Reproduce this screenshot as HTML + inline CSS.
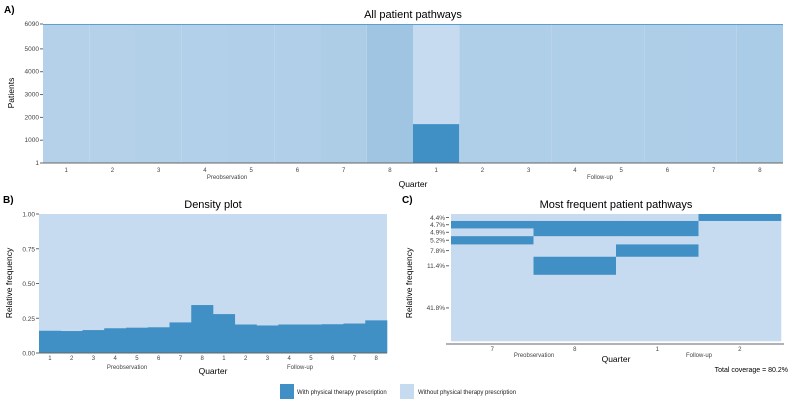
<!DOCTYPE html>
<html><head><meta charset="utf-8"><style>
body{margin:0;background:#fff;font-family:"Liberation Sans",sans-serif;}
svg text{font-family:"Liberation Sans",sans-serif;}
</style></head><body>
<svg id="s" width="800" height="400" xmlns="http://www.w3.org/2000/svg">
<g id="A"></g>
<g id="B"></g>
<g id="C"></g>
<g id="L"></g>
</svg>
<script>
const quarters=["1","2","3","4","5","6","7","8","1","2","3","4","5","6","7","8"];
const density=[0.16,0.158,0.165,0.178,0.182,0.185,0.22,0.345,0.28,0.205,0.198,0.205,0.205,0.207,0.212,0.235];
const patientTicks=[1,1000,2000,3000,4000,5000,6090];
const densityTicks=[0,0.25,0.5,0.75,1];
const densityTickLabels=["0.00","0.25","0.50","0.75","1.00"];
const pathwayQuarters=["7","8","1","2"];
const pathwayFreq=[4.4,4.7,4.9,5.2,7.8,11.4,41.8];
const pathwayStates=[[0,0,0,1],[1,1,1,0],[0,1,1,0],[1,0,0,0],[0,0,1,0],[0,1,0,0],[0,0,0,0]];
const DARK="#4090c6",LIGHT="#c6dbef",NS="http://www.w3.org/2000/svg";
function el(p,t,a,txt){const e=document.createElementNS(NS,t);for(const k in a)e.setAttribute(k,a[k]);if(txt!=null)e.textContent=txt;p.appendChild(e);return e;}
function mix(v){const a=[0xc6,0xdb,0xef],b=[0x40,0x90,0xc6];const f=Math.min(1,v*0.85);return "rgb("+a.map((x,i)=>Math.round(x+(b[i]-x)*f)).join(",")+")";}
// Panel A
const A=document.getElementById('A');
const ax0=43,ax1=783,ay0=24,ay1=163,nP=6090;
const xA=i=>ax0+i*(ax1-ax0)/quarters.length, wA=(ax1-ax0)/quarters.length;
const yA=v=>ay1-(v-1)/(nP-1)*(ay1-ay0);
let t;
t=el(A,'text',{x:4,y:13,'font-size':10,'font-weight':'bold'},'A)');
t=el(A,'text',{x:413,y:18,'font-size':11,'text-anchor':'middle'},'All patient pathways');
quarters.forEach((q,i)=>{
 let r;
 if(i===8){
  r=el(A,'rect',{x:xA(i),y:ay0,width:wA,height:yA(density[i]*nP)-ay0,fill:LIGHT});
  
  r=el(A,'rect',{x:xA(i),y:yA(density[i]*nP),width:wA,height:ay1-yA(density[i]*nP),fill:DARK});
  
 } else {
  r=el(A,'rect',{x:xA(i),y:ay0,width:wA,height:ay1-ay0,fill:mix(density[i])});
  
 }
 t=el(A,'text',{x:xA(i)+wA/2,y:172,'font-size':6,'text-anchor':'middle',fill:'#444'},q);
 
});
el(A,'line',{x1:ax0,y1:ay0+0.5,x2:ax1,y2:ay0+0.5,stroke:'#5aa0d0','stroke-width':1});
el(A,'line',{x1:ax0,y1:ay1,x2:ax1,y2:ay1,stroke:'#666','stroke-width':1});
patientTicks.forEach(v=>{el(A,'line',{x1:ax0-3,x2:ax0,y1:yA(v),y2:yA(v),stroke:'#666'});
 t=el(A,'text',{x:ax0-4,y:yA(v)+2,'font-size':6.5,'text-anchor':'end',fill:'#444'},v);});
t=el(A,'text',{x:14,y:93,'font-size':8.5,'text-anchor':'middle',transform:'rotate(-90 14 93)'},'Patients');
t=el(A,'text',{x:227,y:179,'font-size':6,'text-anchor':'middle',fill:'#444'},'Preobservation');
t=el(A,'text',{x:600,y:179,'font-size':6,'text-anchor':'middle',fill:'#444'},'Follow-up');
t=el(A,'text',{x:413,y:187,'font-size':8.5,'text-anchor':'middle'},'Quarter');
// Panel B
const B=document.getElementById('B');
const bx0=39,bx1=387,by0=214,by1=353;
const wB=(bx1-bx0)/quarters.length,xB=i=>bx0+i*wB,yB=v=>by1-v*(by1-by0);
t=el(B,'text',{x:3,y:203,'font-size':10,'font-weight':'bold'},'B)');
t=el(B,'text',{x:213,y:208,'font-size':11,'text-anchor':'middle'},'Density plot');
let bg=el(B,'rect',{x:bx0,y:by0,width:bx1-bx0,height:by1-by0,fill:LIGHT});
density.forEach((v,i)=>{const r=el(B,'rect',{x:xB(i),y:yB(v),width:wB+0.3,height:by1-yB(v),fill:DARK});
 
 t=el(B,'text',{x:xB(i)+wB/2,y:360,'font-size':6,'text-anchor':'middle',fill:'#444'},quarters[i]);});
el(B,'line',{x1:bx0,y1:by1,x2:bx1,y2:by1,stroke:'#666'});
densityTicks.forEach((v,i)=>{el(B,'line',{x1:bx0-3,x2:bx0,y1:yB(v),y2:yB(v),stroke:'#666'});
 t=el(B,'text',{x:bx0-4,y:yB(v)+2.5,'font-size':6.5,'text-anchor':'end',fill:'#444'},densityTickLabels[i]);});
t=el(B,'text',{x:12,y:283,'font-size':8.5,'text-anchor':'middle',transform:'rotate(-90 12 283)'},'Relative frequency');
t=el(B,'text',{x:127,y:369,'font-size':6,'text-anchor':'middle',fill:'#444'},'Preobservation');
t=el(B,'text',{x:300,y:369,'font-size':6,'text-anchor':'middle',fill:'#444'},'Follow-up');
t=el(B,'text',{x:213,y:374,'font-size':8.5,'text-anchor':'middle'},'Quarter');
// Panel C
const C=document.getElementById('C');
const cx0=451,cx1=781,cy0=214,cy1=341;
const total=pathwayFreq.reduce((a,b)=>a+b,0);
const wC=(cx1-cx0)/pathwayQuarters.length,xC=i=>cx0+i*wC,yC=p=>cy0+p/total*(cy1-cy0);
t=el(C,'text',{x:402,y:203,'font-size':10,'font-weight':'bold'},'C)');
t=el(C,'text',{x:616,y:208,'font-size':11,'text-anchor':'middle'},'Most frequent patient pathways');
let cum=0;
pathwayFreq.forEach((f,r)=>{
 const y0=yC(cum),y1=yC(cum+f);
 pathwayStates[r].forEach((s,c)=>{const rc=el(C,'rect',{x:xC(c),y:y0,width:wC+0.3,height:y1-y0+0.3,fill:s?DARK:LIGHT});
  });
 const ym=(y0+y1)/2;
 el(C,'line',{x1:cx0-5,x2:cx0-2,y1:ym,y2:ym,stroke:'#666'});
 t=el(C,'text',{x:cx0-6,y:ym+2.3,'font-size':6.5,'text-anchor':'end',fill:'#444'},f.toFixed(1)+'%');
 cum+=f;
});
el(C,'line',{x1:cx0-5,y1:cy1+3,x2:cx1+3,y2:cy1+3,stroke:'#666'});
pathwayQuarters.forEach((q,i)=>{t=el(C,'text',{x:xC(i)+wC/2,y:351,'font-size':6,'text-anchor':'middle',fill:'#444'},q);});
t=el(C,'text',{x:412,y:283,'font-size':8.5,'text-anchor':'middle',transform:'rotate(-90 412 283)'},'Relative frequency');
t=el(C,'text',{x:534,y:357,'font-size':6,'text-anchor':'middle',fill:'#444'},'Preobservation');
t=el(C,'text',{x:699,y:357,'font-size':6,'text-anchor':'middle',fill:'#444'},'Follow-up');
t=el(C,'text',{x:616,y:362,'font-size':8.5,'text-anchor':'middle'},'Quarter');
t=el(C,'text',{x:788,y:372,'font-size':7,'text-anchor':'end'},'Total coverage = '+total.toFixed(1)+'%');
// Legend
const L=document.getElementById('L');
let lr=el(L,'rect',{x:280,y:384,width:14,height:15,fill:DARK});
t=el(L,'text',{x:297,y:394,'font-size':6,fill:'#222'},'With physical therapy prescription');
lr=el(L,'rect',{x:400,y:384,width:14,height:15,fill:LIGHT});
t=el(L,'text',{x:418,y:394,'font-size':6,fill:'#222'},'Without physical therapy prescription');
</script>
</body></html>
